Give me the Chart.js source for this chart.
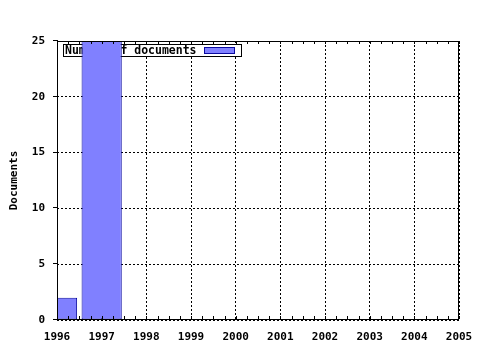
<!DOCTYPE html>
<html>
<head>
<meta charset="utf-8">
<script src="https://cdn.jsdelivr.net/npm/chart.js@4/dist/chart.umd.min.js"></script>
<style>
html,body{margin:0;padding:0;background:#fff;}
#wrap{width:480px;height:350px;position:relative;}
</style>
</head>
<body>
<div id="wrap"><canvas id="c" width="480" height="350"></canvas></div>
<script>
const years = [1996, 1997];
const documents = [2, 27];
const seriesName = 'Number of documents';
const yTitle = 'Documents';
const xMin = 1996, xMax = 2005;
const yMin = 0, yMax = 25, yStep = 5;

const FONT = 'DejaVu Sans Mono';
Chart.defaults.font.family = FONT;
Chart.defaults.font.size = 11;
Chart.defaults.font.weight = 'bold';
Chart.defaults.color = '#000';

const decor = {
  id: 'decor',
  beforeDatasetsDraw(chart) {
    const ctx = chart.ctx;
    const a = chart.chartArea;
    ctx.save();
    ctx.font = 'bold 11.5px "' + FONT + '"';
    ctx.fillStyle = '#fff';
    ctx.fillRect(a.left + 6.5, a.top + 3.5, 178, 12);
    ctx.strokeStyle = '#000';
    ctx.lineWidth = 1;
    ctx.strokeRect(a.left + 6.5, a.top + 3.5, 178, 12);
    ctx.fillStyle = '#000';
    ctx.textBaseline = 'middle';
    ctx.textAlign = 'left';
    ctx.fillText(seriesName, a.left + 8, a.top + 10);
    ctx.fillStyle = '#8080ff';
    ctx.fillRect(a.left + 147.5, a.top + 6.5, 30, 6);
    ctx.strokeStyle = '#0a0aa0';
    ctx.strokeRect(a.left + 147.5, a.top + 6.5, 30, 6);
    ctx.restore();
  },
  afterDraw(chart) {
    const ctx = chart.ctx;
    const a = chart.chartArea;
    const xs = chart.scales.x, ys = chart.scales.y;
    ctx.save();
    ctx.strokeStyle = '#000';
    ctx.lineWidth = 1;
    ctx.setLineDash([]);
    ctx.strokeRect(Math.round(a.left) + 0.5, Math.round(a.top) + 0.5,
      Math.round(a.right - a.left) - 1, Math.round(a.bottom - a.top) - 1);
    ctx.beginPath();
    for (let v = xMin; v <= xMax + 1e-9; v += 0.25) {
      const px = Math.round(xs.getPixelForValue(v)) + 0.5;
      ctx.moveTo(px, a.bottom - 1); ctx.lineTo(px, a.bottom - 4);
      ctx.moveTo(px, a.top); ctx.lineTo(px, a.top + 3);
    }
    for (let v = yMin; v <= yMax; v += yStep) {
      const py = Math.round(ys.getPixelForValue(v)) - 0.5;
      ctx.moveTo(a.left - 4, py); ctx.lineTo(a.left + 1, py);
    }
    ctx.stroke();
    ctx.font = 'bold 11px "' + FONT + '"';
    ctx.fillStyle = '#000';
    ctx.translate(14, (a.top + a.bottom) / 2);
    ctx.rotate(-Math.PI / 2);
    ctx.textAlign = 'center';
    ctx.textBaseline = 'middle';
    ctx.fillText(yTitle, 0, 0);
    ctx.restore();
  }
};

new Chart(document.getElementById('c'), {
  type: 'bar',
  data: {
    datasets: [{
      label: seriesName,
      data: years.map((y, i) => ({ x: y, y: documents[i] })),
      backgroundColor: '#8080ff',
      borderColor: '#0a0aa0',
      borderWidth: 1,
      borderSkipped: false,
      barPercentage: 0.9,
      categoryPercentage: 1.0,
      clip: 0
    }]
  },
  options: {
    responsive: false,
    animation: false,
    devicePixelRatio: 1,
    layout: { padding: { top: 41, right: 21, left: 0, bottom: 0 } },
    plugins: { legend: { display: false }, tooltip: { enabled: false }, title: { display: false } },
    scales: {
      x: {
        type: 'linear',
        min: xMin, max: xMax,
        offset: false,
        afterFit(s) { s.height = 30; s.paddingLeft = 0; s.paddingRight = 0; },
        ticks: { stepSize: 1, padding: 11, maxRotation: 0, callback: v => String(v) },
        grid: { color: '#000', drawTicks: false, lineWidth: 1, offset: false },
        border: { display: false, dash: [2, 2] }
      },
      y: {
        min: yMin, max: yMax,
        afterFit(s) { s.width = 57; s.paddingTop = 0; s.paddingBottom = 0; },
        ticks: { stepSize: yStep, padding: 12 },
        grid: { color: '#000', drawTicks: false, lineWidth: 1, offset: false },
        border: { display: false, dash: [2, 2] }
      }
    }
  },
  plugins: [decor]
});
</script>
</body>
</html>
